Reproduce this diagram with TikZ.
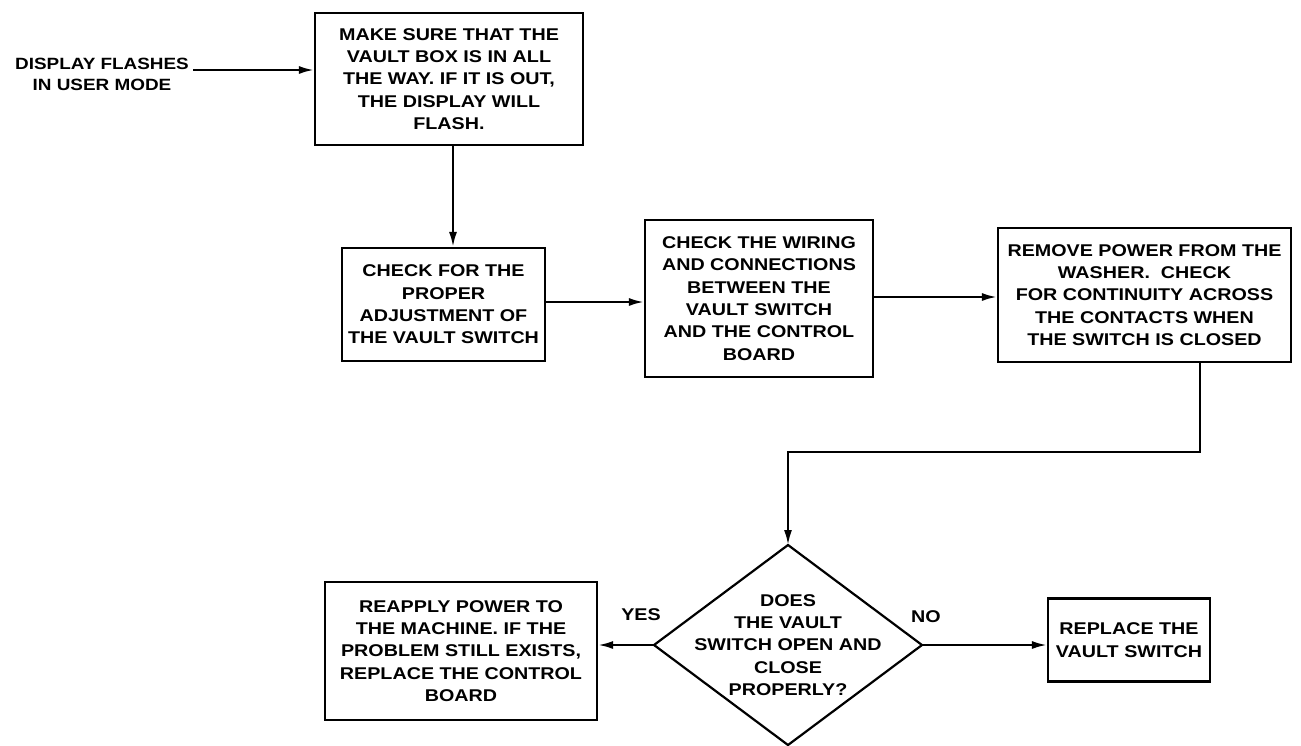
\documentclass[tikz,border=0pt]{standalone}
\usepackage{fontspec}
\setmainfont{Liberation Sans}[FakeStretch=1.16]
\usetikzlibrary{arrows.meta,shapes.geometric}
\begin{document}
\begin{tikzpicture}[x=1pt,y=-1pt,
  box/.style={draw,line width=2.2pt,align=center,inner sep=0pt,font=\fontsize{17}{22.4}\selectfont\bfseries},
  dia/.style={draw,line width=2.2pt,diamond,inner sep=0pt,outer sep=0pt},
  lbl/.style={align=center,inner sep=0pt,font=\fontsize{17}{22.4}\selectfont\bfseries},
  arr/.style={line width=2.2pt,-{Latex[length=15pt,width=8pt]}},
  ln/.style={line width=2.2pt}]
\useasboundingbox (0,0) rectangle (1301,745);
\node[lbl,font=\fontsize{16.3}{21}\selectfont\bfseries] (in) at (102,74) {DISPLAY FLASHES\\IN USER MODE};
\coordinate (s) at (193,70);
\node[box,minimum width=268pt,minimum height=132pt] (b1) at (449,79)
  {MAKE SURE THAT THE\\VAULT BOX IS IN ALL\\THE WAY. IF IT IS OUT,\\THE DISPLAY WILL\\FLASH.};
\node[box,minimum width=203pt,minimum height=113pt] (b2) at (443.5,304.5)
  {CHECK FOR THE\\PROPER\\ADJUSTMENT OF\\THE VAULT SWITCH};
\node[box,minimum width=228pt,minimum height=157pt] (b3) at (759,298.5)
  {CHECK THE WIRING\\AND CONNECTIONS\\BETWEEN THE\\VAULT SWITCH\\AND THE CONTROL\\BOARD};
\node[box,minimum width=293pt,minimum height=134pt] (b4) at (1144.5,295)
  {REMOVE POWER FROM THE\\WASHER.\ \ CHECK\\FOR CONTINUITY ACROSS\\THE CONTACTS WHEN\\THE SWITCH IS CLOSED};
\node[dia,minimum width=268pt,minimum height=200pt] (d) at (788,645) {};
\node[lbl] (dt) at (d.center) {DOES\\THE VAULT\\SWITCH OPEN AND\\CLOSE\\PROPERLY?};
\node[box,minimum width=272pt,minimum height=138pt] (b5) at (461,651)
  {REAPPLY POWER TO\\THE MACHINE. IF THE\\PROBLEM STILL EXISTS,\\REPLACE THE CONTROL\\BOARD};
\node[box,minimum width=162pt,minimum height=83pt] (b6) at (1129,640)
  {REPLACE THE\\VAULT SWITCH};
\node[lbl] (yes) at (641,615) {YES};
\node[lbl] (no) at (926,617) {NO};
\draw[arr] (s) -- (s -| b1.west);
\coordinate (k0) at (453,0);
\draw[arr] (k0 |- b1.south) -- (k0 |- b2.north);
\draw[arr] (b2.east |- 0,302) -- (b3.west |- 0,302);
\draw[arr] (b3.east |- 0,297) -- (b4.west |- 0,297);
\coordinate (k1) at (1200,452);
\draw[arr] (k1 |- b4.south) -- (k1) -| (d.north);
\draw[arr] (d.west) -- (b5.east |- d.west);
\draw[arr] (d.east) -- (b6.west |- d.east);
\end{tikzpicture}
\end{document}
